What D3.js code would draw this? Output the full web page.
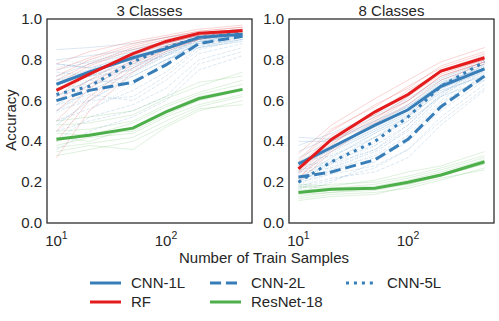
<!DOCTYPE html>
<html>
<head>
<meta charset="utf-8">
<script src="https://cdn.jsdelivr.net/npm/d3@7"></script>
<style>
  body { margin: 0; background: #fff; }
  text { font-family: "Liberation Sans", Arial, sans-serif; fill: #262626; }
</style>
</head>
<body>
<svg width="499" height="321"></svg>
<script>
// train sample sizes (x axis)
var samples = [10, 20, 50, 100, 200, 500];
var panelTitles = ["3 Classes", "8 Classes"];
var yTicks = [0, 0.2, 0.4, 0.6, 0.8, 1.0];
var xTicks = [10, 100];

// mean curves, 3 classes
var cnn1L_3 = [0.68, 0.74, 0.81, 0.855, 0.91, 0.925];
var cnn2L_3 = [0.60, 0.65, 0.69, 0.775, 0.88, 0.915];
var cnn5L_3 = [0.63, 0.67, 0.79, 0.86, 0.91, 0.93];
var rf_3    = [0.65, 0.73, 0.83, 0.89, 0.93, 0.943];
var res_3   = [0.41, 0.43, 0.465, 0.545, 0.61, 0.655];

// mean curves, 8 classes
var cnn1L_8 = [0.29, 0.37, 0.48, 0.555, 0.67, 0.755];
var cnn2L_8 = [0.225, 0.25, 0.31, 0.41, 0.57, 0.72];
var cnn5L_8 = [0.20, 0.30, 0.40, 0.52, 0.67, 0.79];
var rf_8    = [0.265, 0.41, 0.545, 0.63, 0.745, 0.81];
var res_8   = [0.15, 0.165, 0.17, 0.20, 0.235, 0.30];

// single runs, 3 classes
var runsCnn1L_3 = [
  [0.85, 0.86, 0.88, 0.91, 0.93, 0.95],
  [0.55, 0.65, 0.74, 0.82, 0.87, 0.90],
  [0.72, 0.78, 0.83, 0.87, 0.91, 0.93],
  [0.62, 0.70, 0.77, 0.84, 0.89, 0.92],
  [0.78, 0.76, 0.82, 0.86, 0.90, 0.93],
  [0.48, 0.60, 0.72, 0.80, 0.86, 0.89],
  [0.70, 0.75, 0.80, 0.87, 0.91, 0.94],
  [0.80, 0.82, 0.85, 0.89, 0.92, 0.94],
  [0.66, 0.72, 0.79, 0.85, 0.90, 0.92],
  [0.58, 0.68, 0.76, 0.83, 0.88, 0.91],
  [0.75, 0.79, 0.84, 0.88, 0.92, 0.93]
];
var runsCnn2L_3 = [
  [0.40, 0.52, 0.58, 0.66, 0.80, 0.86],
  [0.70, 0.72, 0.75, 0.83, 0.90, 0.93],
  [0.55, 0.60, 0.62, 0.72, 0.85, 0.90],
  [0.78, 0.76, 0.80, 0.85, 0.91, 0.94],
  [0.50, 0.56, 0.65, 0.74, 0.86, 0.91],
  [0.62, 0.70, 0.68, 0.79, 0.89, 0.93],
  [0.45, 0.50, 0.55, 0.62, 0.78, 0.84],
  [0.36, 0.45, 0.52, 0.60, 0.75, 0.82],
  [0.66, 0.68, 0.72, 0.80, 0.88, 0.92],
  [0.58, 0.63, 0.60, 0.70, 0.83, 0.88],
  [0.74, 0.72, 0.78, 0.82, 0.90, 0.93]
];
var runsCnn5L_3 = [
  [0.58, 0.60, 0.73, 0.82, 0.89, 0.92],
  [0.72, 0.75, 0.84, 0.89, 0.93, 0.95],
  [0.50, 0.58, 0.70, 0.80, 0.88, 0.91],
  [0.66, 0.72, 0.81, 0.86, 0.91, 0.93],
  [0.76, 0.80, 0.85, 0.88, 0.92, 0.94],
  [0.45, 0.55, 0.68, 0.78, 0.86, 0.90],
  [0.62, 0.66, 0.76, 0.84, 0.90, 0.93],
  [0.54, 0.62, 0.74, 0.83, 0.89, 0.92],
  [0.80, 0.78, 0.86, 0.90, 0.93, 0.95],
  [0.68, 0.70, 0.78, 0.85, 0.90, 0.92]
];
var runsRf_3 = [
  [0.55, 0.68, 0.80, 0.87, 0.91, 0.94],
  [0.72, 0.80, 0.87, 0.91, 0.94, 0.96],
  [0.60, 0.70, 0.82, 0.88, 0.92, 0.95],
  [0.78, 0.84, 0.89, 0.92, 0.95, 0.97],
  [0.45, 0.62, 0.78, 0.85, 0.90, 0.93],
  [0.32, 0.55, 0.74, 0.84, 0.90, 0.94],
  [0.68, 0.77, 0.85, 0.89, 0.93, 0.95],
  [0.62, 0.73, 0.83, 0.88, 0.92, 0.94],
  [0.50, 0.66, 0.79, 0.86, 0.91, 0.94],
  [0.70, 0.78, 0.86, 0.90, 0.93, 0.95],
  [0.40, 0.60, 0.76, 0.85, 0.91, 0.95],
  [0.75, 0.81, 0.88, 0.91, 0.94, 0.96]
];
var runsRes_3 = [
  [0.35, 0.38, 0.36, 0.47, 0.55, 0.60],
  [0.45, 0.46, 0.50, 0.58, 0.64, 0.70],
  [0.38, 0.42, 0.44, 0.52, 0.58, 0.63],
  [0.48, 0.49, 0.53, 0.61, 0.67, 0.74],
  [0.33, 0.36, 0.40, 0.48, 0.56, 0.58],
  [0.42, 0.40, 0.47, 0.55, 0.62, 0.66],
  [0.40, 0.44, 0.45, 0.53, 0.60, 0.65],
  [0.50, 0.52, 0.55, 0.62, 0.69, 0.72],
  [0.37, 0.39, 0.42, 0.50, 0.57, 0.62],
  [0.44, 0.43, 0.49, 0.57, 0.63, 0.68]
];

// single runs, 8 classes
var runsCnn1L_8 = [
  [0.40, 0.40, 0.50, 0.57, 0.68, 0.77],
  [0.22, 0.32, 0.44, 0.52, 0.64, 0.73],
  [0.30, 0.38, 0.47, 0.55, 0.66, 0.74],
  [0.35, 0.42, 0.52, 0.60, 0.70, 0.78],
  [0.25, 0.35, 0.45, 0.53, 0.65, 0.72],
  [0.42, 0.41, 0.50, 0.58, 0.69, 0.76],
  [0.28, 0.36, 0.46, 0.54, 0.66, 0.75],
  [0.32, 0.40, 0.49, 0.57, 0.68, 0.76],
  [0.20, 0.30, 0.42, 0.50, 0.62, 0.70],
  [0.38, 0.44, 0.53, 0.61, 0.71, 0.79]
];
var runsCnn2L_8 = [
  [0.18, 0.22, 0.25, 0.32, 0.48, 0.65],
  [0.28, 0.30, 0.38, 0.48, 0.63, 0.78],
  [0.20, 0.24, 0.28, 0.36, 0.52, 0.68],
  [0.25, 0.27, 0.35, 0.45, 0.60, 0.75],
  [0.15, 0.20, 0.30, 0.40, 0.55, 0.70],
  [0.30, 0.33, 0.42, 0.52, 0.68, 0.80],
  [0.22, 0.25, 0.32, 0.42, 0.58, 0.73],
  [0.17, 0.21, 0.27, 0.36, 0.50, 0.66],
  [0.26, 0.29, 0.36, 0.46, 0.62, 0.76],
  [0.21, 0.26, 0.33, 0.43, 0.59, 0.72]
];
var runsCnn5L_8 = [
  [0.18, 0.28, 0.36, 0.48, 0.64, 0.76],
  [0.24, 0.34, 0.45, 0.56, 0.70, 0.82],
  [0.16, 0.25, 0.34, 0.46, 0.62, 0.75],
  [0.22, 0.31, 0.42, 0.53, 0.68, 0.80],
  [0.27, 0.36, 0.46, 0.58, 0.71, 0.83],
  [0.19, 0.27, 0.38, 0.50, 0.66, 0.78],
  [0.21, 0.30, 0.40, 0.52, 0.67, 0.79],
  [0.17, 0.26, 0.36, 0.48, 0.63, 0.77],
  [0.25, 0.33, 0.44, 0.55, 0.69, 0.81],
  [0.20, 0.29, 0.39, 0.51, 0.65, 0.78]
];
var runsRf_8 = [
  [0.20, 0.35, 0.49, 0.58, 0.70, 0.78],
  [0.30, 0.45, 0.58, 0.66, 0.77, 0.84],
  [0.25, 0.40, 0.52, 0.60, 0.72, 0.79],
  [0.34, 0.48, 0.61, 0.70, 0.79, 0.86],
  [0.22, 0.38, 0.55, 0.63, 0.75, 0.82],
  [0.28, 0.43, 0.53, 0.65, 0.74, 0.80],
  [0.26, 0.41, 0.54, 0.62, 0.74, 0.81],
  [0.24, 0.39, 0.51, 0.62, 0.73, 0.80],
  [0.31, 0.46, 0.57, 0.67, 0.76, 0.83],
  [0.22, 0.36, 0.50, 0.60, 0.72, 0.79]
];
var runsRes_8 = [
  [0.12, 0.14, 0.15, 0.17, 0.21, 0.27],
  [0.17, 0.19, 0.20, 0.23, 0.27, 0.33],
  [0.14, 0.15, 0.16, 0.19, 0.23, 0.29],
  [0.19, 0.18, 0.21, 0.25, 0.28, 0.35],
  [0.11, 0.13, 0.14, 0.18, 0.22, 0.26],
  [0.16, 0.17, 0.18, 0.21, 0.25, 0.31],
  [0.15, 0.16, 0.17, 0.20, 0.24, 0.30],
  [0.13, 0.15, 0.17, 0.19, 0.23, 0.29],
  [0.18, 0.17, 0.19, 0.22, 0.26, 0.32]
];

var blue = "#377eb8", red = "#e41a1c", green = "#4daf4a";

// model styles, in drawing order
var models = [
  {name: "CNN-1L", color: blue, dash: null},
  {name: "CNN-2L", color: blue, dash: [3.7, 1.6]},
  {name: "CNN-5L", color: blue, dash: [1, 1.65]},
  {name: "RF", color: red, dash: null},
  {name: "ResNet-18", color: green, dash: null}
];

var panels = [
  {x0: 47, x1: 252, means: [cnn1L_3, cnn2L_3, cnn5L_3, rf_3, res_3],
   runs: [runsCnn1L_3, runsCnn2L_3, runsCnn5L_3, runsRf_3, runsRes_3]},
  {x0: 289, x1: 494, means: [cnn1L_8, cnn2L_8, cnn5L_8, rf_8, res_8],
   runs: [runsCnn1L_8, runsCnn2L_8, runsCnn5L_8, runsRf_8, runsRes_8]}
];

var plotTop = 19, plotBottom = 223;
var fs = "15px";
var svg = d3.select("svg");

var y = d3.scaleLinear().domain([0, 1]).range([plotBottom, plotTop]);

panels.forEach(function(p, pi) {
  var x = d3.scaleLog().domain([8.2, 610]).range([p.x0, p.x1]);
  var line = d3.line()
    .x(function(d, i) { return x(samples[i]); })
    .y(function(d) { return y(d); });

  var g = svg.append("g");

  // faint single runs
  models.forEach(function(m, mi) {
    p.runs[mi].forEach(function(r) {
      g.append("path")
        .attr("d", line(r))
        .attr("fill", "none")
        .attr("stroke", m.color)
        .attr("stroke-opacity", 0.18)
        .attr("stroke-width", 1)
        .attr("stroke-dasharray", m.dash ? m.dash.join(",") : null);
    });
  });

  // mean curves
  models.forEach(function(m, mi) {
    g.append("path")
      .attr("d", line(p.means[mi]))
      .attr("fill", "none")
      .attr("stroke", m.color)
      .attr("stroke-width", 3)
      .attr("stroke-dasharray", m.dash ? m.dash.map(function(v) { return v * 3; }).join(",") : null);
  });

  // frame
  g.append("rect")
    .attr("x", p.x0).attr("y", plotTop)
    .attr("width", p.x1 - p.x0).attr("height", plotBottom - plotTop)
    .attr("fill", "none")
    .attr("stroke", "#262626")
    .attr("stroke-width", 1.25);

  // y tick labels
  yTicks.forEach(function(t) {
    g.append("text")
      .attr("x", p.x0 - 5)
      .attr("y", y(t) + 5)
      .attr("text-anchor", "end")
      .style("font-size", fs)
      .text(t.toFixed(1));
  });

  // x tick labels, 10^n
  xTicks.forEach(function(t) {
    var tx = g.append("text")
      .attr("x", x(t))
      .attr("y", 246)
      .attr("text-anchor", "middle")
      .style("font-size", fs);
    tx.append("tspan").text("10");
    tx.append("tspan").attr("dy", -7).style("font-size", "10.5px").text(Math.round(Math.log10(t)));
  });

  // title
  g.append("text")
    .attr("x", (p.x0 + p.x1) / 2)
    .attr("y", 15.5)
    .attr("text-anchor", "middle")
    .style("font-size", fs)
    .text(panelTitles[pi]);
});

// axis labels
svg.append("text")
  .attr("transform", "translate(16,120) rotate(-90)")
  .attr("text-anchor", "middle")
  .style("font-size", fs)
  .text("Accuracy");

svg.append("text")
  .attr("x", 264)
  .attr("y", 263)
  .attr("text-anchor", "middle")
  .style("font-size", fs)
  .text("Number of Train Samples");

// legend, filled column-wise
var legendPos = [
  {lx: 90, ly: 283}, {lx: 210, ly: 283}, {lx: 346, ly: 283},
  {lx: 90, ly: 302}, {lx: 210, ly: 302}
];
models.forEach(function(m, k) {
  var pos = legendPos[k];
  svg.append("line")
    .attr("x1", pos.lx).attr("x2", pos.lx + 31)
    .attr("y1", pos.ly).attr("y2", pos.ly)
    .attr("stroke", m.color)
    .attr("stroke-width", 3)
    .attr("stroke-dasharray", m.dash ? m.dash.map(function(v) { return v * 3; }).join(",") : null);
  svg.append("text")
    .attr("x", pos.lx + 41)
    .attr("y", pos.ly + 5)
    .style("font-size", fs)
    .text(m.name);
});
</script>
</body>
</html>
